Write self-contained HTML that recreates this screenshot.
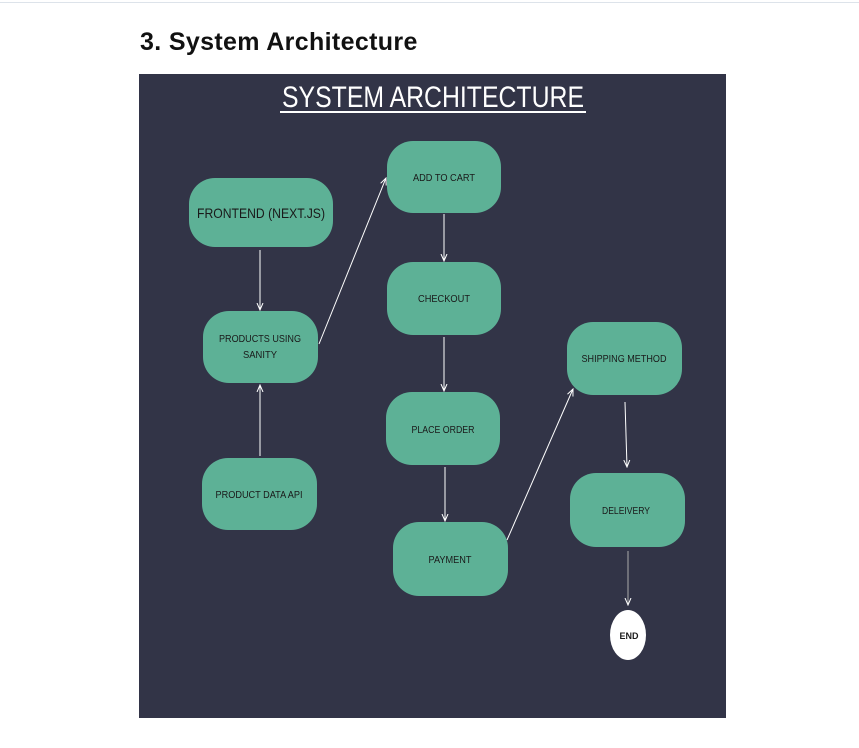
<!DOCTYPE html>
<html><head><style>
body{margin:0;width:859px;height:748px;background:#fff;position:relative;overflow:hidden;font-family:"Liberation Sans",sans-serif}
.top{position:absolute;left:0;top:2px;width:859px;height:1px;background:#dde3ea}
h1{position:absolute;left:140px;top:28px;margin:0;font-size:25px;letter-spacing:0.35px;font-weight:bold;color:#111}
</style></head><body>
<div class="top"></div>
<h1>3. System Architecture</h1>
<svg style="position:absolute;left:0;top:0" width="859" height="748">
<defs><marker id="a" markerWidth="8" markerHeight="8" refX="7" refY="4" orient="auto" markerUnits="userSpaceOnUse"><path d="M0,1 L7,4 L0,7" fill="none" stroke="#fff" stroke-width="1"/></marker></defs>
<rect x="139" y="74" width="587" height="644" fill="#323447"/>
<text x="433" y="107" text-anchor="middle" fill="#fff" font-size="30" font-family="Liberation Sans" textLength="302" lengthAdjust="spacingAndGlyphs">SYSTEM ARCHITECTURE</text>
<rect x="280" y="111" width="306" height="2" fill="#fff"/>
<g fill="#5db196">
<rect x="189" y="178" width="144" height="69" rx="26"/>
<rect x="203" y="311" width="115" height="72" rx="26"/>
<rect x="202" y="458" width="115" height="72" rx="26"/>
<rect x="387" y="141" width="114" height="72" rx="26"/>
<rect x="387" y="262" width="114" height="73" rx="26"/>
<rect x="386" y="392" width="114" height="73" rx="26"/>
<rect x="393" y="522" width="115" height="74" rx="26"/>
<rect x="567" y="322" width="115" height="73" rx="26"/>
<rect x="570" y="473" width="115" height="74" rx="26"/>
</g>
<ellipse cx="628" cy="635" rx="18" ry="25" fill="#fff"/>
<g fill="#1a1a1a" font-size="10" text-anchor="middle" font-family="Liberation Sans">
<text x="261" y="218" font-size="14" textLength="128" lengthAdjust="spacingAndGlyphs">FRONTEND (NEXT.JS)</text>
<text x="260" y="342" textLength="82" lengthAdjust="spacingAndGlyphs">PRODUCTS USING</text>
<text x="260" y="358" textLength="34" lengthAdjust="spacingAndGlyphs">SANITY</text>
<text x="259" y="498" textLength="87" lengthAdjust="spacingAndGlyphs">PRODUCT DATA API</text>
<text x="444" y="181" textLength="62" lengthAdjust="spacingAndGlyphs">ADD TO CART</text>
<text x="444" y="302" textLength="52" lengthAdjust="spacingAndGlyphs">CHECKOUT</text>
<text x="443" y="433" textLength="63" lengthAdjust="spacingAndGlyphs">PLACE ORDER</text>
<text x="450" y="563" textLength="43" lengthAdjust="spacingAndGlyphs">PAYMENT</text>
<text x="624" y="362" textLength="85" lengthAdjust="spacingAndGlyphs">SHIPPING METHOD</text>
<text x="626" y="514" textLength="48" lengthAdjust="spacingAndGlyphs">DELEIVERY</text>
<text x="629" y="639" font-weight="bold" font-size="9">END</text>
</g>
<g stroke="#fff" stroke-width="1" marker-end="url(#a)">
<line x1="260" y1="250" x2="260" y2="310"/>
<line x1="260" y1="456" x2="260" y2="385"/>
<line x1="319" y1="344" x2="386" y2="178"/>
<line x1="444" y1="214" x2="444" y2="261"/>
<line x1="444" y1="337" x2="444" y2="391"/>
<line x1="445" y1="467" x2="445" y2="521"/>
<line x1="507" y1="540" x2="573" y2="389"/>
<line x1="625" y1="402" x2="627" y2="467"/>
<line x1="628" y1="551" x2="628" y2="605" stroke="#aaa"/>
</g>
</svg>
</body></html>
